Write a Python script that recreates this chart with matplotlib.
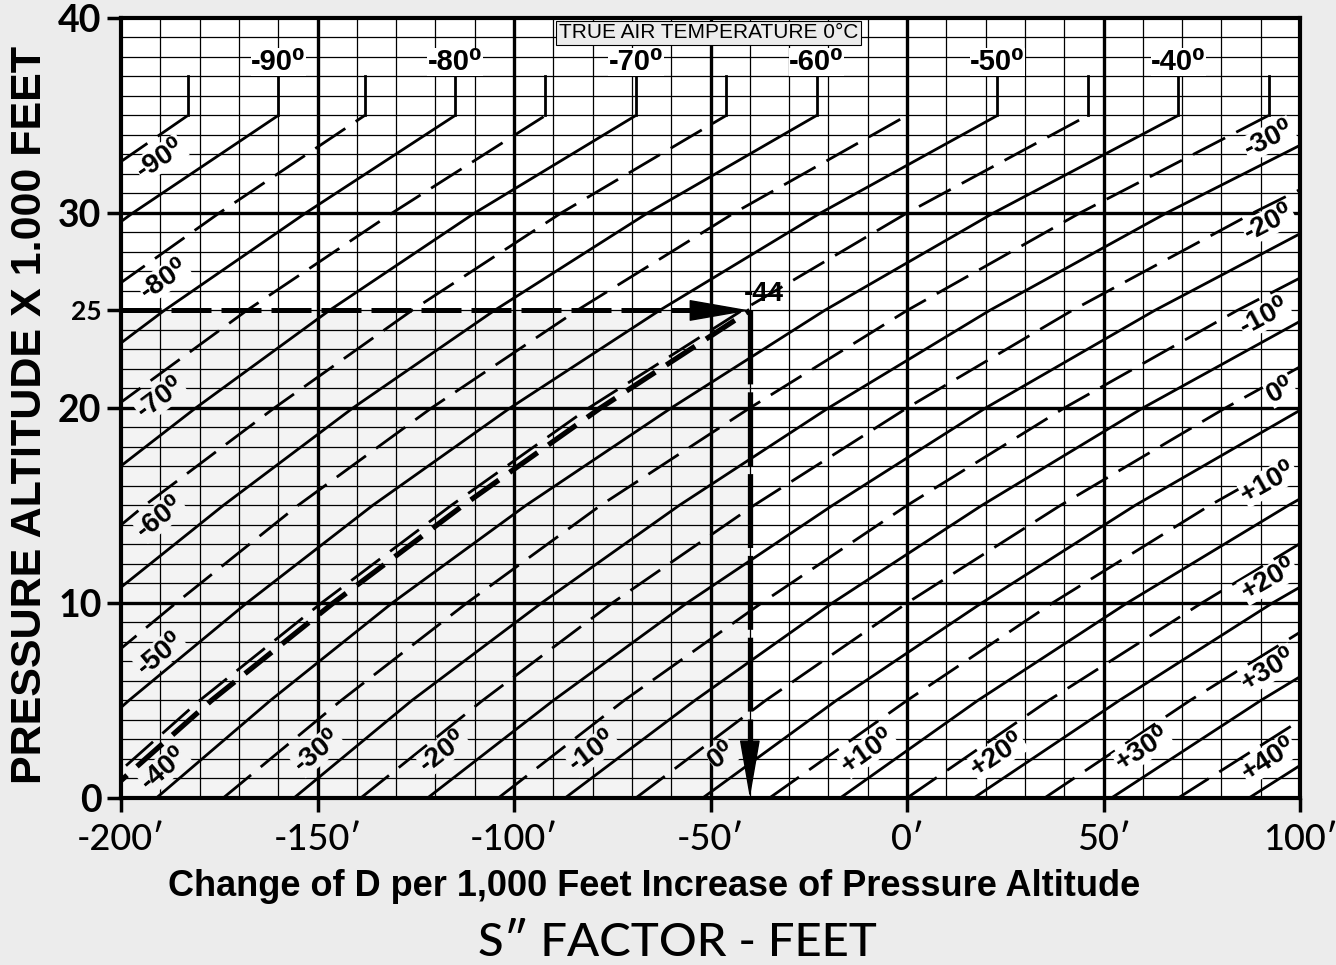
import numpy as np
import matplotlib.pyplot as plt
from matplotlib.patches import Rectangle

# Isothermes (°C), une tous les 5 degrés : pleines aux dizaines, tiretées aux 5
isotherm_temps = [-95, -90, -85, -80, -75, -70, -65, -60, -55, -50, -45, -40, -35,
                  -30, -25, -20, -15, -10, -5, 0, 5, 10, 15, 20, 25, 30, 35, 40]
# Altitudes pression (x 1000 ft) où le facteur S de chaque isotherme est relevé
altitude_levels = [0, 5, 10, 15, 20, 25, 30, 35]
isotherm_s = [
    [-382, -360, -336, -310, -282, -252, -219, -183],
    [-364, -342, -317, -291, -262, -231, -197, -160],
    [-347, -324, -298, -271, -242, -210, -175, -138],
    [-330, -306, -280, -252, -222, -189, -153, -115],
    [-312, -288, -261, -232, -202, -168, -131, -92],
    [-295, -270, -242, -213, -181, -147, -110, -69],
    [-278, -252, -224, -194, -161, -126, -88, -46],
    [-260, -234, -205, -174, -141, -105, -66, -23],
    [-243, -216, -186, -155, -121, -84, -44, 0],
    [-226, -198, -168, -136, -101, -63, -22, 23],
    [-208, -180, -149, -116, -81, -42, 0, 46],
    [-191, -162, -131, -97, -60, -21, 22, 69],
    [-174, -144, -112, -78, -40, 0, 44, 92],
    [-156, -126, -93, -58, -20, 21, 66, 115],
    [-139, -108, -75, -39, 0, 42, 88, 138],
    [-122, -90, -56, -19, 20, 63, 110, 160],
    [-104, -72, -37, 0, 40, 84, 132, 183],
    [-87, -54, -19, 19, 60, 105, 153, 206],
    [-69, -36, 0, 39, 81, 126, 175, 229],
    [-52, -18, 19, 58, 101, 147, 197, 252],
    [-35, 0, 37, 77, 121, 168, 219, 275],
    [-17, 18, 56, 97, 141, 189, 241, 298],
    [0, 36, 75, 116, 161, 210, 263, 321],
    [17, 54, 93, 136, 181, 231, 285, 344],
    [35, 72, 112, 155, 201, 252, 307, 367],
    [52, 90, 131, 174, 222, 273, 329, 390],
    [69, 108, 149, 194, 242, 294, 351, 412],
    [87, 126, 168, 213, 262, 315, 373, 435],
]
tropopause = 35
hook_top = 37

# Exemple : -44 °C à 25 000 ft
example_temp = -44
example_alt = 25
example_s = -40
example_line_alt = [0, 5, 10, 15, 20, 25]
example_line_s = [-205, -177, -146, -113, -78, -40]

x_ticks = [-200, -150, -100, -50, 0, 50, 100]
y_ticks = [0, 10, 20, 25, 30, 40]

# Etiquettes posées le long des isothermes (temp, S, altitude)
left_labels = [(-90, -190, 32.8), (-80, -189, 26.6), (-70, -190, 20.5),
               (-60, -190, 14.4), (-50, -190, 7.4), (-40, -189, 1.5)]
bottom_labels = [(-30, -150, 2.4), (-20, -118, 2.4), (-10, -80, 2.4), (0, -47, 2.2),
                 (10, -10, 2.4), (20, 23, 2.2), (30, 60, 2.5), (40, 92, 2.0)]
right_labels = [(-30, 92, 33.8), (-20, 92, 29.5), (-10, 91, 24.7), (0, 95, 20.9),
                (10, 92, 16.2), (20, 92, 11.2), (30, 92, 6.6)]
top_label_temps = [-90, -80, -70, -60, -50, -40]

bg = '#ececec'
shade = '#f3f3f3'
bold_font = ['Liberation Sans', 'DejaVu Sans']
round_font = ['Lato', 'DejaVu Sans']

fig = plt.figure(figsize=(13.36, 9.65), dpi=100, facecolor=bg)
ax = fig.add_axes([0.0906, 0.1731, 0.8825, 0.8083])
ax.set_xlim(-200, 100)
ax.set_ylim(0, 40)
ax.set_facecolor('white')

# zone grisée de l'exemple
ax.add_patch(Rectangle((-200, 0), example_s + 200, example_alt,
                       facecolor=shade, edgecolor='none', zorder=0))

# quadrillage
for x in range(-190, 100, 10):
    ax.axvline(x, color='black', lw=2.4 if x % 50 == 0 else 0.9, zorder=1)
for y in range(1, 40):
    ax.axhline(y, color='black', lw=2.4 if y % 10 == 0 else 0.9, zorder=1)

# isothermes + crochet vertical au-dessus de la tropopause
for t, row in zip(isotherm_temps, isotherm_s):
    style = '-' if t % 10 == 0 else (0, (13, 4.5))
    ax.plot(row, altitude_levels, color='black', lw=2.0, linestyle=style,
            zorder=2, solid_capstyle='butt')
    if -200 <= row[-1] <= 100:
        ax.plot([row[-1], row[-1]], [tropopause, hook_top], color='black',
                lw=2.0, zorder=2)


def temp_text(t):
    return (f'+{t}' if t > 0 else f'{t}') + '⁰'


def line_angle(t, h):
    row = isotherm_s[isotherm_temps.index(t)]
    s0 = np.interp(h - 1, altitude_levels, row)
    s1 = np.interp(h + 1, altitude_levels, row)
    p0 = ax.transData.transform((s0, h - 1))
    p1 = ax.transData.transform((s1, h + 1))
    return np.degrees(np.arctan2(p1[1] - p0[1], p1[0] - p0[0]))


for t, s, h in left_labels + bottom_labels + right_labels:
    face = shade if (s < example_s and h < example_alt) else 'white'
    ax.text(s, h, temp_text(t), rotation=line_angle(t, h), rotation_mode='anchor',
            ha='center', va='center', fontsize=20, fontweight='bold',
            family=bold_font, zorder=3,
            bbox=dict(facecolor=face, edgecolor='none', pad=0.3))

for t in top_label_temps:
    s = isotherm_s[isotherm_temps.index(t)][-1]
    ax.text(s, 37.75, temp_text(t), ha='center', va='center', fontsize=21,
            fontweight='bold', family=bold_font, zorder=3,
            bbox=dict(facecolor='white', edgecolor='none', pad=0.3))

ax.text(-50.5, 39.25, 'TRUE AIR TEMPERATURE 0°C', ha='center', va='center',
        fontsize=15, family=bold_font, zorder=4,
        bbox=dict(facecolor=bg, edgecolor='black', lw=0.8, boxstyle='square,pad=0.12'))

# chemin de l'exemple
ax.plot(example_line_s, example_line_alt, color='black', lw=3.8,
        linestyle=(0, (6.5, 2.5)), zorder=3)
ax.plot([-200, example_s - 12], [example_alt, example_alt], color='black', lw=3.6,
        linestyle=(0, (8, 2)), zorder=4)
ax.annotate('', xy=(example_s, example_alt), xytext=(example_s - 14, example_alt),
            arrowprops=dict(arrowstyle='-|>,head_length=2.0,head_width=0.35',
                            color='black', lw=1, shrinkA=0, shrinkB=0,
                            mutation_scale=20), zorder=5)
ax.plot([example_s, example_s], [example_alt, 2.5], color='black', lw=3.8,
        linestyle=(0, (14, 1.5)), zorder=4)
ax.annotate('', xy=(example_s, 0), xytext=(example_s, 2.8),
            arrowprops=dict(arrowstyle='-|>,head_length=1.9,head_width=0.33',
                            color='black', lw=1, shrinkA=0, shrinkB=0,
                            mutation_scale=20), zorder=5)
ax.text(example_s + 3.5, example_alt + 0.85, str(example_temp), ha='center', va='center',
        fontsize=20, fontweight='bold', family=bold_font, zorder=5)

# axes
for sp in ax.spines.values():
    sp.set_linewidth(3)
    sp.set_zorder(6)
ax.set_xticks(x_ticks)
ax.set_xticklabels([f'{v}′' for v in x_ticks], fontsize=26, fontweight='medium',
                   family=round_font)
ax.set_yticks(y_ticks)
ax.set_yticklabels([str(v) for v in y_ticks], fontsize=27, fontweight='bold',
                   family=round_font)
for lab in ax.get_yticklabels():
    if lab.get_text() == '25':
        lab.set_fontsize(19)
ax.tick_params(axis='both', length=10, width=2.5, direction='out', pad=4)
ax.tick_params(axis='x', pad=8)

fig.text(30 / 1336, 1 - 415 / 965, 'PRESSURE ALTITUDE X 1.000 FEET', rotation=90,
         ha='center', va='center', fontsize=31, fontweight='bold', family=bold_font)
fig.text(654 / 1336, 1 - 886 / 965,
         'Change of D per 1,000 Feet Increase of Pressure Altitude',
         ha='center', va='center', fontsize=26, fontweight='bold', family=bold_font)
fig.text(677 / 1336, 1 - 943 / 965, 'S″ FACTOR - FEET', ha='center', va='center',
         fontsize=34, fontweight='medium', family=round_font)

fig.savefig('out.png', dpi=100, facecolor=bg)
